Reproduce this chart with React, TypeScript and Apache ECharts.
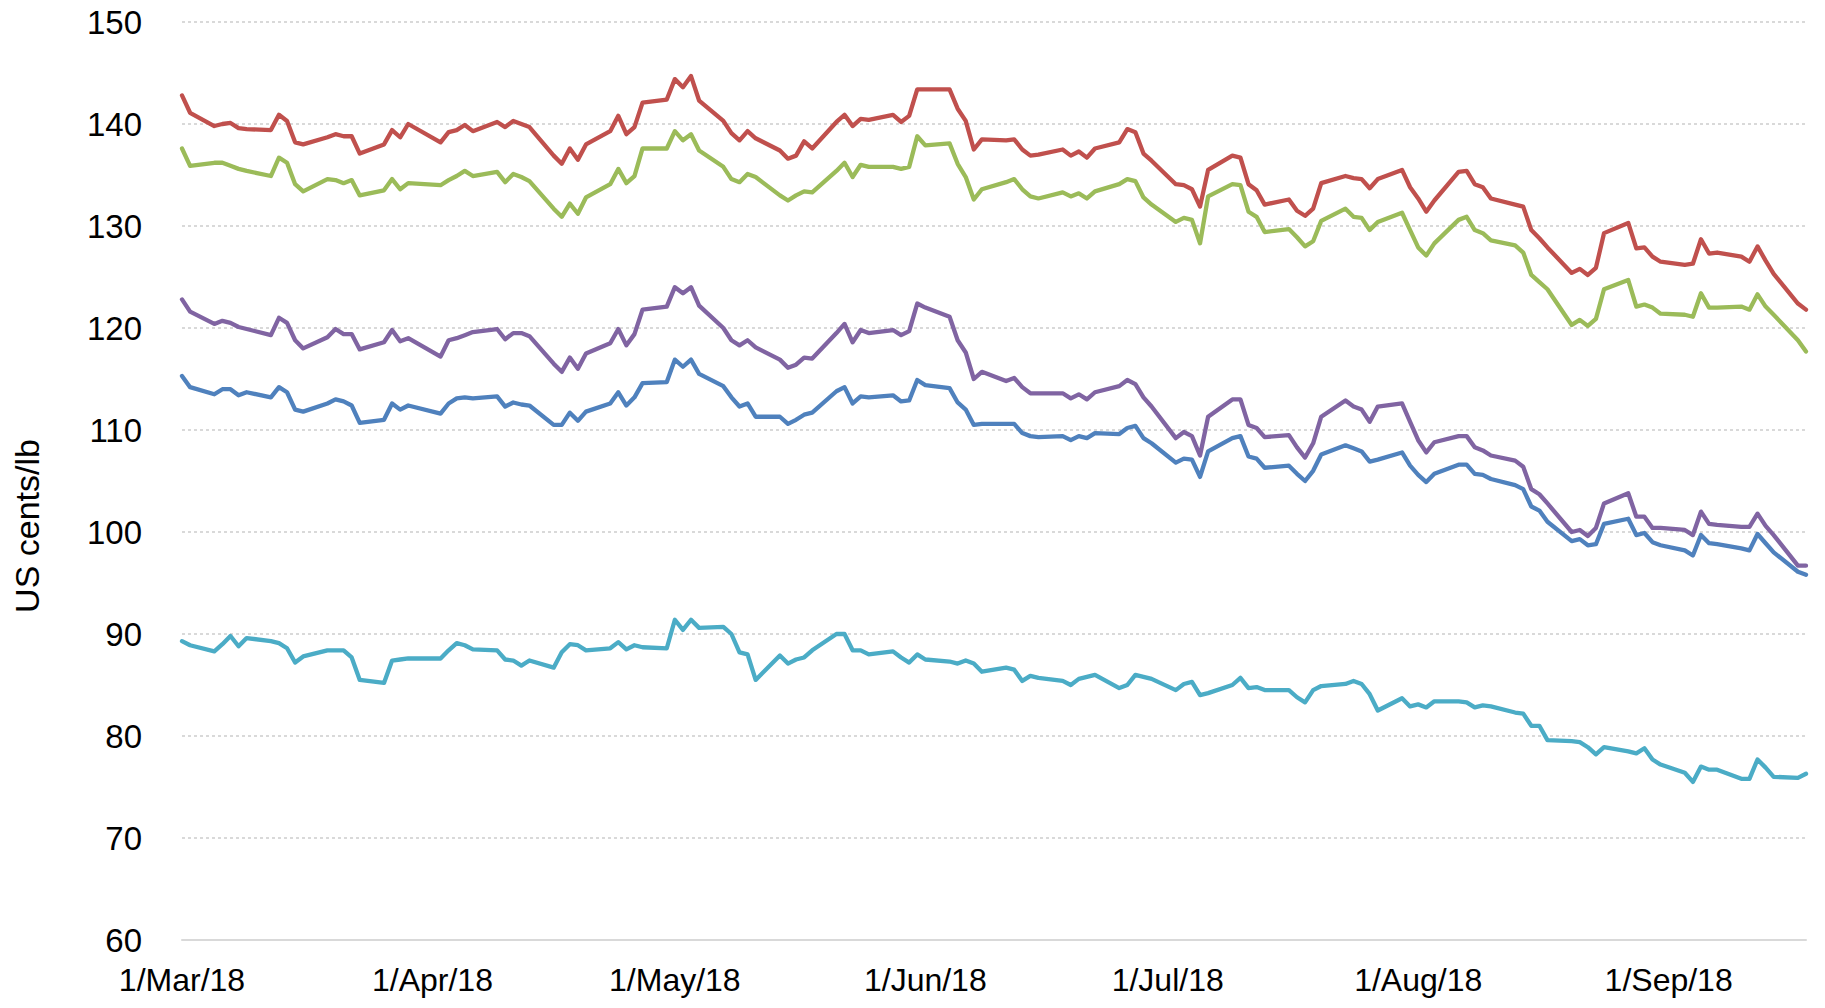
import React, { useEffect, useRef } from "react";
import * as echarts from "echarts";

// Trading dates (x categories)
const dates: string[] = [
  "2018-03-01","2018-03-02","2018-03-05","2018-03-06","2018-03-07","2018-03-08","2018-03-09",
  "2018-03-12","2018-03-13","2018-03-14","2018-03-15","2018-03-16","2018-03-19","2018-03-20",
  "2018-03-21","2018-03-22","2018-03-23","2018-03-26","2018-03-27","2018-03-28","2018-03-29",
  "2018-04-02","2018-04-03","2018-04-04","2018-04-05","2018-04-06","2018-04-09","2018-04-10",
  "2018-04-11","2018-04-12","2018-04-13","2018-04-16","2018-04-17","2018-04-18","2018-04-19",
  "2018-04-20","2018-04-23","2018-04-24","2018-04-25","2018-04-26","2018-04-27","2018-04-30",
  "2018-05-01","2018-05-02","2018-05-03","2018-05-04","2018-05-07","2018-05-08","2018-05-09",
  "2018-05-10","2018-05-11","2018-05-14","2018-05-15","2018-05-16","2018-05-17","2018-05-18",
  "2018-05-21","2018-05-22","2018-05-23","2018-05-24","2018-05-25","2018-05-28","2018-05-29",
  "2018-05-30","2018-05-31",
  "2018-06-01","2018-06-04","2018-06-05","2018-06-06","2018-06-07","2018-06-08","2018-06-11",
  "2018-06-12","2018-06-13","2018-06-14","2018-06-15","2018-06-18","2018-06-19","2018-06-20",
  "2018-06-21","2018-06-22","2018-06-25","2018-06-26","2018-06-27","2018-06-28","2018-06-29",
  "2018-07-02","2018-07-03","2018-07-04","2018-07-05","2018-07-06","2018-07-09","2018-07-10",
  "2018-07-11","2018-07-12","2018-07-13","2018-07-16","2018-07-17","2018-07-18","2018-07-19",
  "2018-07-20","2018-07-23","2018-07-24","2018-07-25","2018-07-26","2018-07-27","2018-07-30",
  "2018-07-31",
  "2018-08-01","2018-08-02","2018-08-03","2018-08-06","2018-08-07","2018-08-08","2018-08-09",
  "2018-08-10","2018-08-13","2018-08-14","2018-08-15","2018-08-16","2018-08-17","2018-08-20",
  "2018-08-21","2018-08-22","2018-08-23","2018-08-24","2018-08-27","2018-08-28","2018-08-29",
  "2018-08-30","2018-08-31",
  "2018-09-03","2018-09-04","2018-09-05","2018-09-06","2018-09-07","2018-09-10","2018-09-11",
  "2018-09-12","2018-09-13","2018-09-14","2018-09-17","2018-09-18",
];

// Month tick labels
const monthTicks: string[] = [
  "2018-03-01","2018-04-01","2018-05-01","2018-06-01","2018-07-01","2018-08-01","2018-09-01",
];
const monthNames: string[] = ["Jan","Feb","Mar","Apr","May","Jun","Jul","Aug","Sep","Oct","Nov","Dec"];

const seriesBlue: number[] = [
  115.3,114.2,113.5,114.0,114.0,113.4,113.7,113.2,114.2,113.7,112.0,111.8,112.6,113.0,112.8,112.4,110.7,111.0,112.6,112.0,112.4,
  111.6,112.6,113.1,113.2,113.1,113.3,112.3,112.7,112.5,112.4,110.5,110.5,111.7,110.9,111.8,112.6,113.7,112.4,113.2,114.6,114.7,
  116.9,116.2,116.9,115.5,114.3,113.2,112.3,112.6,111.3,111.3,110.6,111.0,111.5,111.7,113.8,114.2,112.6,113.3,113.2,113.4,112.8,112.9,114.9,
  114.4,114.1,112.7,112.0,110.5,110.6,110.6,110.6,109.7,109.4,109.3,109.4,109.0,109.4,109.2,109.7,109.6,110.2,110.4,109.2,108.7,
  106.8,107.2,107.1,105.4,107.9,109.2,109.4,107.4,107.2,106.3,106.5,105.7,105.0,106.0,107.6,108.5,108.2,107.9,106.9,107.1,107.8,106.5,
  105.6,104.9,105.7,106.6,106.6,105.7,105.6,105.2,104.6,104.2,102.5,102.1,101.0,99.1,99.3,98.7,98.8,100.8,101.3,99.7,99.9,99.0,98.7,
  98.2,97.7,99.7,98.9,98.8,98.4,98.2,99.8,98.9,98.0,96.1,95.8,
];

const seriesRed: number[] = [
  142.8,141.1,139.8,140.0,140.1,139.6,139.5,139.4,140.9,140.3,138.2,138.0,138.7,139.0,138.8,138.8,137.1,138.0,139.4,138.7,140.0,
  138.2,139.2,139.4,139.9,139.3,140.2,139.7,140.3,140.0,139.7,136.9,136.1,137.6,136.5,138.0,139.3,140.8,139.0,139.7,142.1,142.4,
  144.4,143.6,144.7,142.3,140.3,139.1,138.4,139.3,138.6,137.4,136.6,136.9,138.3,137.6,140.2,140.9,139.8,140.5,140.4,140.9,140.2,140.8,143.4,
  143.4,143.4,141.5,140.3,137.5,138.5,138.4,138.5,137.5,136.9,137.0,137.5,136.9,137.3,136.7,137.6,138.2,139.5,139.2,137.1,136.4,
  134.1,134.0,133.6,131.9,135.5,136.9,136.7,134.1,133.5,132.1,132.6,131.5,131.0,131.7,134.2,134.9,134.7,134.6,133.7,134.6,135.5,133.8,
  132.7,131.4,132.5,135.3,135.4,134.1,133.8,132.7,132.1,131.9,129.6,128.8,127.9,125.4,125.8,125.2,125.9,129.3,130.3,127.8,127.9,127.0,126.5,
  126.2,126.3,128.7,127.3,127.4,127.0,126.5,128.0,126.6,125.3,122.4,121.8,
];

const seriesGreen: number[] = [
  137.6,135.9,136.2,136.2,135.9,135.6,135.4,134.9,136.7,136.2,134.1,133.4,134.6,134.5,134.2,134.5,133.0,133.5,134.6,133.6,134.2,
  134.0,134.5,134.9,135.4,134.9,135.3,134.3,135.1,134.8,134.4,131.7,130.9,132.2,131.2,132.8,134.1,135.6,134.2,134.9,137.6,137.6,
  139.3,138.4,139.0,137.4,135.8,134.6,134.3,135.1,134.8,133.0,132.5,133.0,133.4,133.3,135.4,136.2,134.8,136.0,135.8,135.8,135.6,135.8,138.8,
  137.9,138.1,136.1,134.8,132.6,133.6,134.3,134.6,133.6,132.9,132.7,133.3,132.9,133.2,132.7,133.4,134.1,134.6,134.4,132.8,132.1,
  130.4,130.8,130.6,128.3,132.9,134.1,134.0,131.4,130.9,129.4,129.7,128.9,128.0,128.5,130.5,131.7,130.9,130.8,129.6,130.4,131.3,129.6,
  127.9,127.1,128.3,130.6,130.9,129.6,129.3,128.6,128.1,127.4,125.2,124.5,123.8,120.3,120.8,120.2,120.9,123.8,124.7,122.1,122.3,122.0,121.4,
  121.3,121.1,123.4,122.0,122.0,122.1,121.8,123.3,122.1,121.3,118.8,117.7,
];

const seriesPurple: number[] = [
  122.8,121.6,120.4,120.7,120.5,120.1,119.9,119.3,121.0,120.5,118.8,118.0,119.1,119.9,119.4,119.4,117.9,118.6,119.8,118.7,119.0,
  117.2,118.8,119.0,119.3,119.6,119.9,118.9,119.5,119.5,119.2,116.5,115.7,117.1,116.0,117.5,118.5,119.9,118.3,119.4,121.8,122.1,
  124.0,123.4,124.0,122.2,120.0,118.8,118.3,118.8,118.1,116.9,116.1,116.4,117.1,117.0,119.5,120.4,118.6,119.8,119.5,119.8,119.3,119.7,122.4,
  122.0,121.1,118.8,117.6,115.0,115.7,114.8,115.1,114.2,113.6,113.6,113.6,113.1,113.5,113.0,113.7,114.3,114.9,114.5,113.2,112.3,
  109.2,109.8,109.4,107.5,111.3,113.0,113.0,110.5,110.2,109.3,109.5,108.3,107.3,108.7,111.3,112.9,112.3,112.0,110.8,112.3,112.6,110.8,
  109.0,107.8,108.8,109.4,109.4,108.3,108.0,107.5,107.0,106.4,104.2,103.7,102.8,100.0,100.2,99.6,100.4,102.8,103.8,101.5,101.5,100.4,100.4,
  100.2,99.7,102.0,100.8,100.7,100.5,100.5,101.8,100.6,99.7,96.7,96.7,
];

const seriesCyan: number[] = [
  89.3,88.9,88.3,89.0,89.8,88.8,89.6,89.3,89.1,88.6,87.2,87.8,88.4,88.4,88.4,87.7,85.5,85.2,87.4,87.5,87.6,
  87.6,88.4,89.1,88.9,88.5,88.4,87.5,87.4,86.9,87.4,86.7,88.2,89.0,88.9,88.4,88.6,89.2,88.5,88.9,88.7,88.6,
  91.4,90.4,91.4,90.6,90.7,90.0,88.2,88.0,85.5,87.9,87.1,87.5,87.7,88.4,90.0,90.0,88.4,88.4,88.0,88.3,87.7,87.2,88.0,
  87.5,87.3,87.1,87.4,87.1,86.3,86.7,86.5,85.4,85.9,85.7,85.4,85.0,85.6,85.8,86.0,84.7,85.0,86.0,85.8,85.6,
  84.5,85.1,85.3,84.0,84.2,85.0,85.7,84.7,84.8,84.5,84.5,83.8,83.3,84.5,84.9,85.1,85.4,85.1,84.1,82.5,83.7,82.9,
  83.1,82.8,83.4,83.4,83.3,82.8,83.0,82.9,82.3,82.2,81.0,81.0,79.6,79.5,79.4,78.9,78.2,78.9,78.5,78.3,78.8,77.7,77.2,
  76.4,75.5,77.0,76.7,76.7,75.8,75.8,77.7,76.9,76.0,75.9,76.3,
];

const yTicks = { min: 60, max: 150, step: 10 };
const yTitle = "US cents/lb";

const toTs = (s: string) => {
  const [y, m, d] = s.split("-").map(Number);
  return Date.UTC(y, m - 1, d);
};

const FONT = "'Liberation Sans', Arial, sans-serif";

export default function App() {
  const ref = useRef<HTMLDivElement>(null);
  useEffect(() => {
    if (!ref.current) return;
    const chart = echarts.init(ref.current, undefined, { renderer: "svg" });
    const mk = (name: string, vals: number[], color: string) => ({
      name,
      type: "line",
      data: dates.map((d, i) => [toTs(d), vals[i]]),
      showSymbol: false,
      symbol: "none",
      lineStyle: { color, width: 4.3, join: "round", cap: "round" },
      itemStyle: { color },
    });
    chart.setOption({
      animation: false,
      backgroundColor: "#ffffff",
      textStyle: { fontFamily: FONT },
      grid: { left: 182, right: 19, top: 22, bottom: 68, containLabel: false },
      xAxis: {
        type: "value",
        min: toTs(dates[0]),
        max: toTs(dates[dates.length - 1]),
        axisLine: { show: true, lineStyle: { color: "#d9d9d9", width: 2 } },
        axisTick: { show: false },
        splitLine: { show: false },
        axisLabel: {
          customValues: monthTicks.map(toTs),
          showMinLabel: true,
          showMaxLabel: true,
          hideOverlap: false,
          fontSize: 32,
          color: "#000",
          fontFamily: FONT,
          margin: 24,
          formatter: (v: number) => {
            const dt = new Date(v);
            return dt.getUTCDate() + "/" + monthNames[dt.getUTCMonth()] + "/" + String(dt.getUTCFullYear()).slice(2);
          },
        },
      },
      yAxis: {
        type: "value",
        min: yTicks.min,
        max: yTicks.max,
        interval: yTicks.step,
        axisLine: { show: false },
        axisTick: { show: false },
        axisLabel: { fontSize: 33, color: "#000", fontFamily: FONT, margin: 40 },
        splitLine: { show: true, lineStyle: { color: "#d9d9d9", width: 2, type: [3, 3] } },
      },
      graphic: [
        {
          type: "text",
          x: 27,
          y: 526,
          rotation: Math.PI / 2,
          style: {
            text: yTitle,
            fontSize: 34,
            fontFamily: FONT,
            fill: "#000",
            textAlign: "center",
            textVerticalAlign: "middle",
          },
        },
      ],
      series: [
        mk("Series 1", seriesBlue, "#4F81BD"),
        mk("Series 2", seriesRed, "#C0504D"),
        mk("Series 3", seriesGreen, "#9BBB59"),
        mk("Series 4", seriesPurple, "#8064A2"),
        mk("Series 5", seriesCyan, "#4BACC6"),
      ],
    });
    return () => chart.dispose();
  }, []);
  return <div ref={ref} style={{ width: 1825, height: 1008, position: "absolute", left: 0, top: 0 }} />;
}
